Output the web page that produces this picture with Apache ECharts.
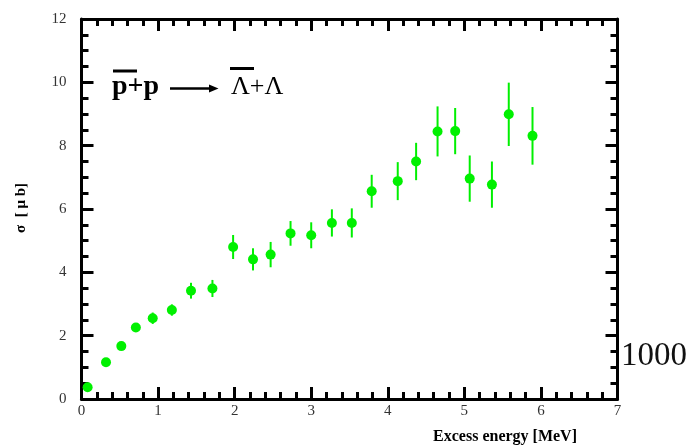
<!DOCTYPE html>
<html>
<head>
<meta charset="utf-8">
<script src="https://cdn.jsdelivr.net/npm/echarts@6/dist/echarts.min.js"></script>
<style>html,body{margin:0;padding:0;background:#fff}#c{width:692px;height:448px}</style>
</head>
<body>
<div id="c"></div>
<script>
// Data
const excessEnergy = [0.08, 0.32, 0.52, 0.71, 0.93, 1.18, 1.43, 1.71, 1.98, 2.24, 2.47, 2.73, 3.00, 3.27, 3.53, 3.79, 4.13, 4.37, 4.65, 4.88, 5.07, 5.36, 5.58, 5.89];
const sigma = [0.37, 1.16, 1.67, 2.26, 2.55, 2.81, 3.42, 3.49, 4.80, 4.41, 4.56, 5.23, 5.17, 5.56, 5.56, 6.56, 6.88, 7.50, 8.45, 8.46, 6.96, 6.77, 8.99, 8.31];
const sigmaErr = [0.08, 0.08, 0.09, 0.12, 0.18, 0.18, 0.25, 0.27, 0.38, 0.35, 0.40, 0.39, 0.41, 0.43, 0.46, 0.52, 0.60, 0.59, 0.79, 0.73, 0.73, 0.73, 1.00, 0.91];
const xTicks = [0, 1, 2, 3, 4, 5, 6, 7];
const yTicks = [0, 2, 4, 6, 8, 10, 12];

const green = '#00f000';
const serif = '"Liberation Serif", "DejaVu Serif", serif';

const points = excessEnergy.map((x, i) => [x, sigma[i]]);
const bars = excessEnergy.map((x, i) => [x, sigma[i] - sigmaErr[i], sigma[i] + sigmaErr[i]]);

const chart = echarts.init(document.getElementById('c'));

function xAxisCfg(pos, showLabel) {
  return {
    type: 'value', position: pos, min: xTicks[0], max: xTicks[xTicks.length - 1], interval: 1,
    axisLine: { show: true, onZero: false, lineStyle: { color: '#000', width: 3 } },
    axisTick: { show: true, inside: true, length: 12, lineStyle: { color: '#000', width: 3 } },
    minorTick: { show: true, splitNumber: 5, length: 7, lineStyle: { color: '#000', width: 3 } },
    splitLine: { show: false }, minorSplitLine: { show: false },
    axisLabel: { show: showLabel, color: '#333', fontFamily: serif, fontSize: 15, margin: 5 }
  };
}
function yAxisCfg(pos, showLabel) {
  return {
    type: 'value', position: pos, min: yTicks[0], max: yTicks[yTicks.length - 1], interval: 2,
    axisLine: { show: true, onZero: false, lineStyle: { color: '#000', width: 3 } },
    axisTick: { show: true, inside: true, length: 12, lineStyle: { color: '#000', width: 3 } },
    minorTick: { show: true, splitNumber: 4, length: 7, lineStyle: { color: '#000', width: 3 } },
    splitLine: { show: false }, minorSplitLine: { show: false },
    axisLabel: { show: showLabel, color: '#333', fontFamily: serif, fontSize: 15, margin: 15, padding: [0, 0, 8, 0] }
  };
}

chart.setOption({
  animation: false,
  grid: { left: 81.5, right: 74.5, top: 19, bottom: 49 },
  xAxis: [xAxisCfg('bottom', true), xAxisCfg('top', false)],
  yAxis: [yAxisCfg('left', true), yAxisCfg('right', false)],
  series: [
    {
      type: 'custom', xAxisIndex: 0, yAxisIndex: 0, data: bars, z: 2,
      renderItem: function (params, api) {
        const a = api.coord([api.value(0), api.value(1)]);
        const b = api.coord([api.value(0), api.value(2)]);
        return { type: 'line', shape: { x1: a[0], y1: a[1], x2: b[0], y2: b[1] }, style: { stroke: green, lineWidth: 2 } };
      }
    },
    {
      type: 'scatter', xAxisIndex: 0, yAxisIndex: 0, data: points, z: 3,
      symbol: 'circle', symbolSize: 10, itemStyle: { color: green, opacity: 1 }
    }
  ],
  graphic: [
    { type: 'text', x: 21, y: 208, rotation: Math.PI / 2, style: { text: 'σ  [ μ b]', font: 'bold 15px ' + serif, fill: '#000', align: 'center', verticalAlign: 'middle' } },
    { type: 'text', x: 577, y: 437, style: { text: 'Excess energy [MeV]', font: 'bold 16px ' + serif, fill: '#000', align: 'right', verticalAlign: 'middle' } },
    { type: 'text', x: 621, y: 356, style: { text: '1000', font: '33px ' + serif, fill: '#111', align: 'left', verticalAlign: 'middle' } },
    // reaction label
    { type: 'text', x: 112, y: 87, style: { text: 'p+p', font: 'bold 28px ' + serif, fill: '#000', align: 'left', verticalAlign: 'middle' } },
    { type: 'line', shape: { x1: 113, y1: 71, x2: 137, y2: 71 }, style: { stroke: '#000', lineWidth: 3 } },
    { type: 'line', shape: { x1: 170, y1: 88.5, x2: 211, y2: 88.5 }, style: { stroke: '#000', lineWidth: 2.5 } },
    { type: 'polygon', shape: { points: [[209, 84.5], [218.5, 88.5], [209, 92.5]] }, style: { fill: '#000' } },
    { type: 'text', x: 231, y: 87, style: { text: 'Λ+Λ', font: '26px ' + serif, fill: '#000', align: 'left', verticalAlign: 'middle' } },
    { type: 'line', shape: { x1: 230, y1: 68.5, x2: 254, y2: 68.5 }, style: { stroke: '#000', lineWidth: 3 } }
  ]
});
</script>
</body>
</html>
